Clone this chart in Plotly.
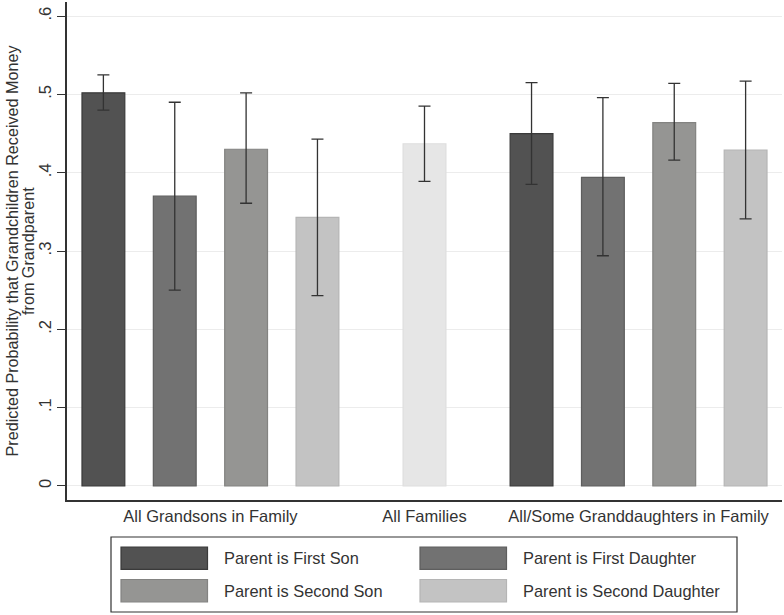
import plotly.graph_objects as go

# ---- data ----
categories = ["All Grandsons in Family", "All Families", "All/Some Granddaughters in Family"]
series = ["Parent is First Son", "Parent is First Daughter", "Parent is Second Son", "Parent is Second Daughter"]

grandsons_est = [0.502, 0.370, 0.430, 0.343]
grandsons_lo = [0.480, 0.250, 0.361, 0.243]
grandsons_hi = [0.525, 0.490, 0.502, 0.443]

allfam_est = [0.437]
allfam_lo = [0.389]
allfam_hi = [0.485]

granddaughters_est = [0.450, 0.394, 0.464, 0.429]
granddaughters_lo = [0.385, 0.294, 0.416, 0.341]
granddaughters_hi = [0.515, 0.496, 0.514, 0.517]

y_ticks = [0, 0.1, 0.2, 0.3, 0.4, 0.5, 0.6]
y_tick_labels = ["0", ".1", ".2", ".3", ".4", ".5", ".6"]

y_title_lines = ["Predicted Probability that Grandchildren Received Money", "from Grandparent"]

# ---- style ----
FONT = "Liberation Sans, Arial, Helvetica, sans-serif"
fills = ["#525252", "#727272", "#959593", "#c3c3c3"]
lines = ["#3a3a3a", "#5e5e5e", "#838381", "#b5b5b5"]
allfam_fill = "#e6e6e6"
allfam_line = "#dedede"
err_color = "#333333"
TXT = "#333333"

pos_grandsons = [0, 1, 2, 3]
pos_allfam = [4.5]
pos_granddaughters = [6, 7, 8, 9]
group_centers = [1.5, 4.5, 7.5]
BAR_W = 0.6

fig = go.Figure()


def add_bar(x, est, lo, hi, fill, line, name):
    fig.add_trace(go.Bar(
        x=x, y=est, width=BAR_W, name=name, showlegend=False,
        marker=dict(color=fill, line=dict(color=line, width=1.2)),
        error_y=dict(type="data", symmetric=False,
                     array=[h - e for h, e in zip(hi, est)],
                     arrayminus=[e - l for e, l in zip(est, lo)],
                     color=err_color, thickness=1.3, width=6),
    ))


for i, s in enumerate(series):
    add_bar([pos_grandsons[i]], [grandsons_est[i]], [grandsons_lo[i]], [grandsons_hi[i]],
            fills[i], lines[i], s)
add_bar(pos_allfam, allfam_est, allfam_lo, allfam_hi, allfam_fill, allfam_line, "All Families")
for i, s in enumerate(series):
    add_bar([pos_granddaughters[i]], [granddaughters_est[i]], [granddaughters_lo[i]],
            [granddaughters_hi[i]], fills[i], lines[i], s)

W, H = 784, 615
L, R, T, B = 67, 2, 2, 115
PW, PH = W - L - R, H - T - B


def pxx(p):
    return (p - L) / PW


def pxy(p):
    return (H - B - p) / PH


fig.update_layout(
    width=W, height=H,
    margin=dict(l=L, r=R, t=T, b=B, pad=0),
    paper_bgcolor="white", plot_bgcolor="white",
    font=dict(family=FONT, size=16, color=TXT),
    barmode="overlay",
    showlegend=False,
    xaxis=dict(
        range=[-0.51, 9.51], tickvals=group_centers, ticktext=categories,
        showgrid=False, zeroline=False, showline=True, linecolor="#333333", linewidth=1.5,
        ticks="", tickfont=dict(size=16.5, color=TXT), ticklabelstandoff=0,
    ),
    yaxis=dict(
        range=[-0.0179, 0.618], tickvals=y_ticks, ticktext=y_tick_labels,
        showgrid=True, gridcolor="#ececec", gridwidth=1.3, zeroline=False,
        showline=True, linecolor="#333333", linewidth=1.5,
        ticks="outside", ticklen=8, tickcolor="#333333", tickwidth=1.3,
        tickangle=-90, tickfont=dict(size=16.5, color=TXT),
    ),
)

# ---- y-axis title (two lines, rotated) ----
for cx, txt in zip([11.5, 28], y_title_lines):
    fig.add_annotation(xref="paper", yref="paper", x=pxx(cx), y=pxy(251), text=txt,
                       textangle=-90, showarrow=False, xanchor="center", yanchor="middle",
                       font=dict(family=FONT, size=16.2, color=TXT))

# ---- manual legend (Stata style) ----
fig.add_shape(type="rect", xref="paper", yref="paper",
              x0=pxx(111), x1=pxx(737), y0=pxy(612), y1=pxy(537),
              line=dict(color="#333333", width=1.2), fillcolor="white")

legend_cells = [(121, 547, 0), (420, 547, 1), (121, 579.5, 2), (420, 579.5, 3)]
for sx, sy, idx in legend_cells:
    fig.add_shape(type="rect", xref="paper", yref="paper",
                  x0=pxx(sx), x1=pxx(sx + 86.5), y0=pxy(sy + 22.3), y1=pxy(sy),
                  fillcolor=fills[idx], line=dict(color=lines[idx], width=1.2))
    fig.add_annotation(xref="paper", yref="paper", x=pxx(sx + 100.5), y=pxy(sy + 11),
                       text=series[idx], showarrow=False, xanchor="left", yanchor="middle",
                       font=dict(family=FONT, size=16.4, color=TXT))

fig.write_html("out.html", config={"displayModeBar": False},
               post_script="document.body.style.margin='0px';")
